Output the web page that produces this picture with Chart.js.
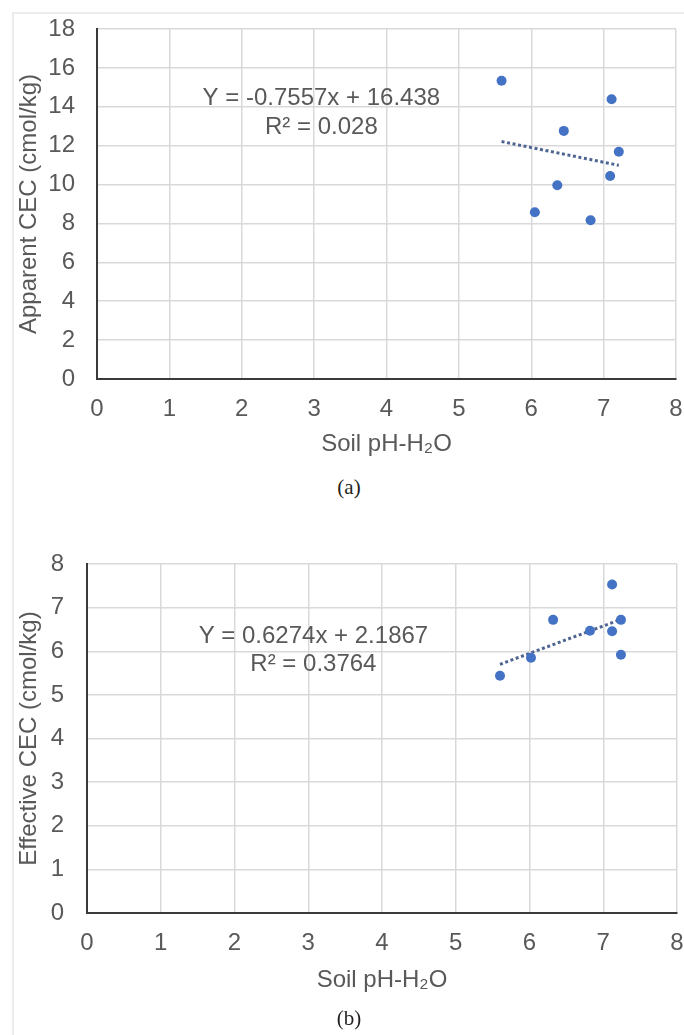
<!DOCTYPE html>
<html lang="en">
<head>
  <meta charset="UTF-8">
  <title>Apparent and effective CEC vs soil pH</title>
  <script src="https://cdn.jsdelivr.net/npm/chart.js"></script>
  <style>
    body {
      margin: 0;
      background: #fff;
      width: 684px;
      height: 1035px;
      position: relative;
      overflow: hidden;
    }
    .frame {
      position: absolute;
      left: 12px;
      top: 12px;
      width: 720px;
      height: 1100px;
      border-top: 2px solid #ececec;
      border-left: 2px solid #ececec;
    }
    canvas {
      position: absolute;
      left: 0;
    }
    #chartA { top: 0; }
    #chartB { top: 500px; }
    .caption {
      position: absolute;
      left: 309px;
      width: 80px;
      text-align: center;
      font-family: "Liberation Serif", "Times New Roman", serif;
      font-size: 21px;
      line-height: 24px;
      color: #231f20;
    }
  </style>
</head>
<body>

<div class="frame"></div>
<canvas id="chartA" width="684" height="470"></canvas>
<div class="caption" style="top:475px">(a)</div>
<canvas id="chartB" width="684" height="535"></canvas>
<div class="caption" style="top:1006px">(b)</div>

<script>
  // values
  const phA = [5.59, 7.11, 6.45, 7.21, 7.09, 6.36, 6.05, 6.82];
  const apparentCEC = [15.34, 14.39, 12.76, 11.69, 10.44, 9.96, 8.58, 8.16];
  const phB = [7.12, 6.32, 7.24, 6.82, 7.12, 6.02, 7.24, 5.60];
  const effectiveCEC = [7.53, 6.72, 6.72, 6.47, 6.46, 5.85, 5.92, 5.44];

  // trendline coefficients as printed on the charts
  const slopeA = -0.7557, interceptA = 16.438, r2A = "0.028";
  const slopeB = 0.6274, interceptB = 2.1867, r2B = "0.3764";

  const FONT = '"Liberation Sans", Arial, sans-serif';
  const TXT = "#595959";
  const GRID = "#d9d9d9";
  const AXIS = "#3a3a3a";
  const BLUE = "#4472C4";
  const TREND = "#4e6591";
  const NONE = "rgba(0,0,0,0)";

  // draws the regression equation text inside the plot
  const eqPlugin = {
    id: "eq",
    afterDatasetsDraw(chart, args, opts) {
      const { ctx, scales: { x, y } } = chart;
      ctx.save();
      ctx.font = "24px " + FONT;
      ctx.fillStyle = TXT;
      ctx.textAlign = "center";
      ctx.textBaseline = "middle";
      opts.lines.forEach(l => {
        ctx.fillText(l.text, x.getPixelForValue(l.x), y.getPixelForValue(l.y) - 1);
      });
      ctx.restore();
    }
  };

  function trend(xs, slope, intercept) {
    const lo = Math.min(...xs), hi = Math.max(...xs);
    return [{ x: lo, y: slope * lo + intercept }, { x: hi, y: slope * hi + intercept }];
  }

  function makeChart(id, s) {
    const pts = s.xs.map((v, i) => ({ x: v, y: s.ys[i] }));
    return new Chart(document.getElementById(id), {
      type: "scatter",
      data: {
        datasets: [
          {
            data: pts,
            pointRadius: 5,
            pointHoverRadius: 5,
            pointBackgroundColor: BLUE,
            pointBorderColor: BLUE,
            pointBorderWidth: 0
          },
          {
            data: trend(s.xs, s.slope, s.intercept),
            showLine: true,
            pointRadius: 0,
            borderColor: TREND,
            borderWidth: 3,
            borderDash: [3, 2.6]
          }
        ]
      },
      options: {
        responsive: false,
        animation: false,
        layout: { padding: s.pad },
        plugins: {
          legend: { display: false },
          tooltip: { enabled: false },
          eq: { lines: s.eq }
        },
        scales: {
          x: {
            type: "linear",
            min: 0,
            max: 8,
            ticks: { stepSize: 1, padding: 0, color: TXT, font: { family: FONT, size: 24 } },
            grid: { color: GRID, lineWidth: 1.5, tickLength: 16, tickColor: NONE },
            border: { color: AXIS, width: 2 },
            title: {
              display: true,
              text: "Soil pH-H₂O",
              color: TXT,
              font: { family: FONT, size: 24 },
              padding: { top: 0, bottom: 0 }
            },
            afterFit: sc => { sc.height = s.xHeight; }
          },
          y: {
            min: 0,
            max: s.yMax,
            ticks: { stepSize: s.yStep, padding: 0, color: TXT, font: { family: FONT, size: 24 } },
            grid: { color: GRID, lineWidth: 1.5, tickLength: s.yTickGap, tickColor: NONE },
            border: { color: AXIS, width: 2 },
            title: {
              display: true,
              text: s.yTitle,
              color: TXT,
              font: { family: FONT, size: 24 },
              padding: { top: 15, bottom: 0 }
            },
            afterFit: sc => { sc.width = s.yWidth; }
          }
        }
      },
      plugins: [eqPlugin]
    });
  }

  makeChart("chartA", {
    xs: phA, ys: apparentCEC, slope: slopeA, intercept: interceptA,
    yMax: 18, yStep: 2, yTitle: "Apparent CEC (cmol/kg)",
    pad: { left: 0, top: 29, right: 8, bottom: 11 },
    xHeight: 80, yWidth: 97, yTickGap: 22,
    eq: [
      { text: "Y = " + slopeA + "x + " + interceptA, x: 3.1, y: 14.4 },
      { text: "R² = " + r2A, x: 3.1, y: 12.9 }
    ]
  });

  makeChart("chartB", {
    xs: phB, ys: effectiveCEC, slope: slopeB, intercept: interceptB,
    yMax: 8, yStep: 1, yTitle: "Effective CEC (cmol/kg)",
    pad: { left: 0, top: 64, right: 7, bottom: 40 },
    xHeight: 82, yWidth: 87, yTickGap: 23,
    eq: [
      { text: "Y = " + slopeB + "x + " + interceptB, x: 3.07, y: 6.32 },
      { text: "R² = " + r2B, x: 3.07, y: 5.68 }
    ]
  });
</script>

</body>
</html>
